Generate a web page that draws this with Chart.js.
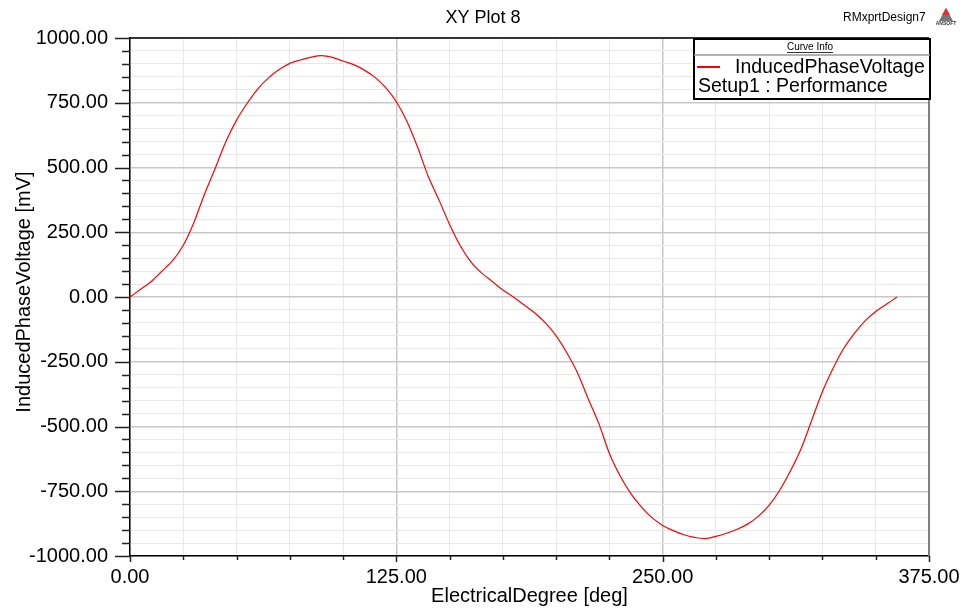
<!DOCTYPE html>
<html>
<head>
<meta charset="utf-8">
<script src="https://cdn.jsdelivr.net/npm/chart.js@4.4.1/dist/chart.umd.min.js"></script>
<style>
  html, body { margin: 0; padding: 0; background: #fff; }
  #plot { display: block; }
</style>
</head>
<body>
<canvas id="plot" width="964" height="614"></canvas>
<script>
// values
const degrees = [0, 5, 10, 15, 20, 25, 30, 35, 40, 45, 50, 55, 60, 65, 70, 75, 80, 85, 90,
    95, 100, 105, 110, 115, 120, 125, 130, 135, 140, 145, 150, 155, 160, 165, 170, 175, 180,
    185, 190, 195, 200, 205, 210, 215, 220, 225, 230, 235, 240, 245, 250, 255, 260, 265, 270,
    275, 280, 285, 290, 295, 300, 305, 310, 315, 320, 325, 330, 335, 340, 345, 350, 355, 360];
const inducedVoltage = [0, 30, 60, 100, 140, 200, 288, 398, 497, 600, 683, 748, 804, 846, 878, 902, 915, 926, 932,
    925, 911, 897, 876, 848, 808, 754, 678, 578, 465, 375, 280, 198, 136, 93, 60, 27, 0,
    -31, -62, -100, -150, -215, -292, -392, -488, -604, -690, -758, -810, -852, -882, -902, -918, -928, -933,
    -924, -912, -897, -876, -846, -804, -745, -671, -585, -475, -365, -275, -198, -140, -92, -56, -28, 0];

const xTicks = [0, 125, 250, 375];
const yTicks = [-1000, -750, -500, -250, 0, 250, 500, 750, 1000];

const plotTitle = 'XY Plot 8';
const designName = 'RMxprtDesign7';
const curveName = 'InducedPhaseVoltage';
const setupName = 'Setup1 : Performance';
const xTitle = 'ElectricalDegree [deg]';
const yTitle = 'InducedPhaseVoltage [mV]';

const FONT = '"Liberation Sans", Arial, sans-serif';

// frame, tick marks, titles and the curve info box
const decorations = {
    id: 'decorations',
    beforeDatasetsDraw(chart) {
        const ctx = chart.ctx;
        const a = chart.chartArea;
        const xs = chart.scales.x;
        const ys = chart.scales.y;
        ctx.save();
        // right axis line (grey) and top line
        ctx.strokeStyle = '#808080';
        ctx.lineWidth = 2;
        ctx.beginPath();
        ctx.moveTo(a.right, a.top);
        ctx.lineTo(a.right, a.bottom);
        ctx.stroke();
        ctx.strokeStyle = '#000';
        ctx.lineWidth = 1.5;
        ctx.beginPath();
        ctx.moveTo(a.left, a.top);
        ctx.lineTo(a.right, a.top);
        ctx.stroke();

        // tick marks
        ctx.strokeStyle = '#222';
        ctx.lineWidth = 1.5;
        for (let v = -1000; v <= 1000; v += 50) {
            const y = Math.round(ys.getPixelForValue(v)) + 0.5;
            const len = yTicks.includes(v) ? 15 : 8;
            ctx.beginPath();
            ctx.moveTo(a.left - len, y);
            ctx.lineTo(a.left, y);
            ctx.stroke();
        }
        for (let v = 0; v <= 375; v += 25) {
            const x = Math.round(xs.getPixelForValue(v)) + 0.5;
            const len = xTicks.includes(v) ? 6 : 4;
            ctx.beginPath();
            ctx.moveTo(x, a.bottom);
            ctx.lineTo(x, a.bottom + len);
            ctx.stroke();
        }
        ctx.restore();
    },
    afterDraw(chart) {
        const ctx = chart.ctx;
        ctx.save();
        ctx.fillStyle = '#000';
        ctx.textBaseline = 'middle';

        ctx.font = '18px ' + FONT;
        ctx.textAlign = 'center';
        ctx.fillText(plotTitle, 483, 18);

        // y axis title
        ctx.save();
        ctx.translate(24, 292);
        ctx.rotate(-Math.PI / 2);
        ctx.font = '20px ' + FONT;
        ctx.fillText(yTitle, 0, 0);
        ctx.restore();

        ctx.font = '12px ' + FONT;
        ctx.textAlign = 'left';
        ctx.fillText(designName, 843, 18);

        // small logo
        ctx.fillStyle = '#777';
        ctx.beginPath();
        ctx.moveTo(946, 8);
        ctx.lineTo(953, 21);
        ctx.lineTo(939, 21);
        ctx.closePath();
        ctx.fill();
        ctx.fillStyle = '#d33';
        ctx.beginPath();
        ctx.moveTo(946, 8);
        ctx.lineTo(950, 15);
        ctx.lineTo(942, 15);
        ctx.closePath();
        ctx.fill();
        ctx.fillStyle = '#333';
        ctx.font = 'bold 5px ' + FONT;
        ctx.textAlign = 'center';
        ctx.fillText('ANSOFT', 946, 24);

        // curve info box
        const bx = 694, by = 39, bw = 236, bh = 60;
        ctx.fillStyle = '#fff';
        ctx.fillRect(bx, by, bw, bh);
        ctx.strokeStyle = '#000';
        ctx.lineWidth = 2;
        ctx.strokeRect(bx, by, bw, bh);
        ctx.strokeStyle = '#999';
        ctx.lineWidth = 1.5;
        ctx.beginPath();
        ctx.moveTo(bx, 55);
        ctx.lineTo(bx + bw, 55);
        ctx.stroke();

        ctx.fillStyle = '#000';
        ctx.font = '10px ' + FONT;
        ctx.textAlign = 'center';
        ctx.fillText('Curve Info', 810, 47);
        const w = ctx.measureText('Curve Info').width;
        ctx.strokeStyle = '#000';
        ctx.lineWidth = 0.8;
        ctx.beginPath();
        ctx.moveTo(810 - w / 2, 52.5);
        ctx.lineTo(810 + w / 2, 52.5);
        ctx.stroke();

        ctx.strokeStyle = '#ff0000';
        ctx.lineWidth = 2;
        ctx.beginPath();
        ctx.moveTo(697, 67);
        ctx.lineTo(720, 67);
        ctx.stroke();

        ctx.font = '19.5px ' + FONT;
        ctx.textAlign = 'left';
        ctx.fillText(curveName, 735, 68);
        ctx.fillText(setupName, 698, 87);
        ctx.restore();
    }
};

const ctx = document.getElementById('plot').getContext('2d');
new Chart(ctx, {
    type: 'line',
    data: {
        datasets: [{
            label: curveName,
            data: degrees.map((d, i) => ({ x: d, y: inducedVoltage[i] })),
            borderColor: '#ff0000',
            borderWidth: 1.2,
            pointRadius: 0,
            tension: 0.3,
            fill: false
        }]
    },
    options: {
        responsive: false,
        animation: false,
        layout: { padding: { left: 0, top: 38, right: 35, bottom: 0 } },
        plugins: {
            legend: { display: false },
            tooltip: { enabled: false }
        },
        scales: {
            x: {
                type: 'linear',
                min: 0,
                max: 375,
                afterFit: s => { s.height = 58; },
                afterBuildTicks: s => {
                    s.ticks = [];
                    for (let v = 0; v <= 375; v += 25) s.ticks.push({ value: v });
                },
                border: { color: '#000', width: 1.5 },
                grid: {
                    drawTicks: true,
                    tickLength: 6,
                    tickColor: 'rgba(0,0,0,0)',
                    color: c => xTicks.includes(c.tick.value) ? '#c8c8c8' : '#e8e8e8',
                    lineWidth: c => xTicks.includes(c.tick.value) ? 1.5 : 1
                },
                ticks: {
                    autoSkip: false,
                    maxRotation: 0,
                    padding: 3,
                    color: '#000',
                    font: { family: FONT, size: 20 },
                    callback: v => xTicks.includes(v) ? v.toFixed(2) : ''
                },
                title: {
                    display: true,
                    text: xTitle,
                    color: '#000',
                    font: { family: FONT, size: 20 },
                    padding: { top: 0, bottom: 6 }
                }
            },
            y: {
                type: 'linear',
                min: -1000,
                max: 1000,
                afterFit: s => { s.width = 130; },
                afterBuildTicks: s => {
                    s.ticks = [];
                    for (let v = -1000; v <= 1000; v += 50) s.ticks.push({ value: v });
                },
                border: { color: '#000', width: 1.5 },
                grid: {
                    drawTicks: false,
                    color: c => yTicks.includes(c.tick.value) ? '#c8c8c8' : '#e8e8e8',
                    lineWidth: c => yTicks.includes(c.tick.value) ? 1.5 : 1
                },
                ticks: {
                    autoSkip: false,
                    padding: 22,
                    color: '#000',
                    font: { family: FONT, size: 20 },
                    callback: v => yTicks.includes(v) ? v.toFixed(2) : ''
                }
            }
        }
    },
    plugins: [decorations]
});
</script>
</body>
</html>
